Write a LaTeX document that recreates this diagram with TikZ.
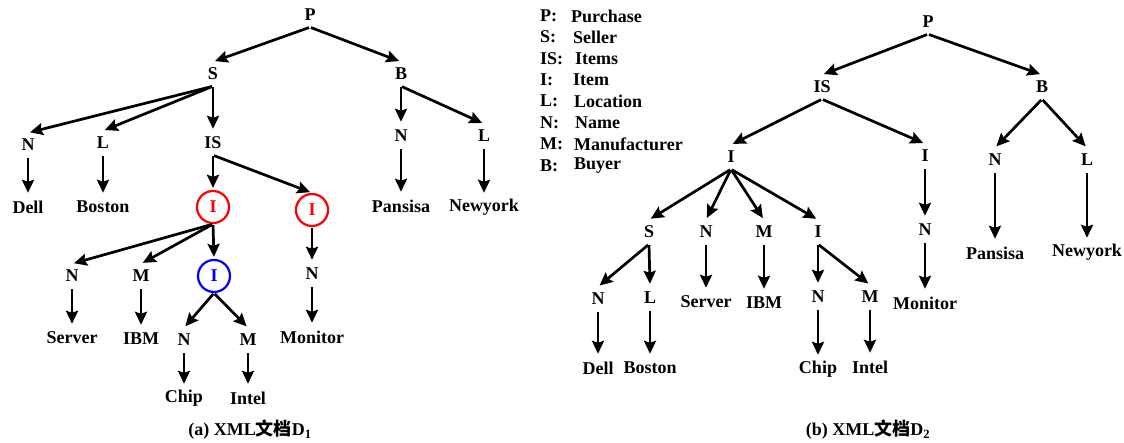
\documentclass[tikz,border=0pt]{standalone}
\usepackage{fontspec}
\setmainfont{Liberation Serif}
\newfontfamily\cjk{Noto Sans CJK SC}
\usetikzlibrary{arrows.meta}
\begin{document}
\begin{tikzpicture}[x=1pt,y=-1pt,
  lbl/.style={font=\fontsize{18}{20}\selectfont\bfseries, inner sep=0pt, minimum height=24pt},
  circ/.style={lbl, circle, draw, line width=2.2pt, minimum size=32pt},
  red circ/.style={circ, draw=red, text=red},
  blue circ/.style={circ, draw=blue, text=blue},
  arr/.style={-{Stealth[length=13pt,width=12pt,inset=2pt]}, line width=2.7pt, shorten <=1pt, shorten >=2pt},
  legtxt/.style={font=\fontsize{18}{20}\selectfont\bfseries, inner sep=0pt, anchor=west},
  captxt/.style={font=\fontsize{18}{20}\selectfont\bfseries, inner sep=0pt}]
\useasboundingbox (0,0) rectangle (1124,443);
\fill[white] (0,0) rectangle (1124,443);

% ---------- (a) ----------
\node[lbl] (aP) at (310,15) {P};
\node[lbl] (aS) at (213,74) {S};
\node[lbl] (aB) at (401,74) {B};
\node[lbl] (aN1) at (28,145) {N};
\node[lbl] (aL1) at (103,143) {L};
\node[lbl] (aIS) at (213,143) {IS};
\node[lbl] (aDell) at (28,207) {Dell};
\node[lbl] (aBoston) at (103,207) {Boston};
\node[red circ] (aI1) at (213,207) {I};
\node[red circ] (aI2) at (312,210) {I};
\node[lbl] (aN2) at (72,276) {N};
\node[lbl] (aM2) at (141,276) {M};
\node[blue circ] (aI3) at (214,276) {I};
\node[lbl] (aServer) at (72,338) {Server};
\node[lbl] (aIBM) at (141,339) {IBM};
\node[lbl] (aN3) at (184,340) {N};
\node[lbl] (aM3) at (248,340) {M};
\node[lbl] (aChip) at (184,398) {Chip};
\node[lbl] (aIntel) at (248,398) {Intel};
\node[lbl] (aN4) at (312,274) {N};
\node[lbl] (aMonitor) at (312,337) {Monitor};
\node[lbl] (aN5) at (401,136) {N};
\node[lbl] (aL5) at (484,136) {L};
\node[lbl] (aPansisa) at (401,206) {Pansisa};
\node[lbl] (aNewyork) at (484,207) {Newyork};
\node[captxt] (capA) at (250,430) {(a) XML{\cjk 文档}D\textsubscript{1}};

\draw[arr] (aP.south) -- (aS.north);
\draw[arr] (aP.south) -- (aB.north);
\draw[arr] (aS.south) -- (aN1.north);
\draw[arr] (aS.south) -- (aL1.north);
\draw[arr] (aS.south) -- (aIS.north);
\draw[arr] (aN1.south) -- (aDell.north);
\draw[arr] (aL1.south) -- (aBoston.north);
\draw[arr] (aIS.south) -- (aI1.north);
\draw[arr] (aIS.south) -- (aI2.north);
\draw[arr] (aI1.south) -- (aN2.north);
\draw[arr] (aI1.south) -- (aM2.north);
\draw[arr] (aI1.south) -- (aI3.north);
\draw[arr] (aN2.south) -- (aServer.north);
\draw[arr] (aM2.south) -- (aIBM.north);
\draw[arr] (aI3.south) -- (aN3.north);
\draw[arr] (aI3.south) -- (aM3.north);
\draw[arr] (aN3.south) -- (aChip.north);
\draw[arr] (aM3.south) -- (aIntel.north);
\draw[arr] (aI2.south) -- (aN4.north);
\draw[arr] (aN4.south) -- (aMonitor.north);
\draw[arr] (aB.south) -- (aN5.north);
\draw[arr] (aB.south) -- (aL5.north);
\draw[arr] (aN5.south) -- (aPansisa.north);
\draw[arr] (aL5.south) -- (aNewyork.north);

% ---------- legend ----------
\foreach \k/\v/\y/\vx [count=\i] in {P:/Purchase/16/571, S:/Seller/37/573, IS:/Items/59/575, I:/Item/80/573, L:/Location/101/574, N:/Name/123/575, M:/Manufacturer/144/574, B:/Buyer/166/574}{
  \node[legtxt] (key\i) at (540,\y) {\k};
  \node[legtxt] (val\i) at (\vx,\y) {\v};
}

% ---------- (b) ----------
\node[lbl] (bP) at (928,22) {P};
\node[lbl] (bIS) at (822,87) {IS};
\node[lbl] (bB) at (1042,87) {B};
\node[lbl] (bI1) at (731,157) {I};
\node[lbl] (bI2) at (925,156) {I};
\node[lbl] (bS) at (649,232) {S};
\node[lbl] (bN1) at (706,232) {N};
\node[lbl] (bM1) at (764,232) {M};
\node[lbl] (bI3) at (818,232) {I};
\node[lbl] (bN2) at (598,299) {N};
\node[lbl] (bL2) at (650,298) {L};
\node[lbl] (bDell) at (598,368) {Dell};
\node[lbl] (bBoston) at (650,368) {Boston};
\node[lbl] (bServer) at (706,302) {Server};
\node[lbl] (bIBM) at (764,303) {IBM};
\node[lbl] (bN3) at (818,297) {N};
\node[lbl] (bM3) at (870,297) {M};
\node[lbl] (bChip) at (818,369) {Chip};
\node[lbl] (bIntel) at (870,367) {Intel};
\node[lbl] (bN4) at (925,230) {N};
\node[lbl] (bMonitor) at (925,303) {Monitor};
\node[lbl] (bN5) at (995,160) {N};
\node[lbl] (bL5) at (1087,160) {L};
\node[lbl] (bPansisa) at (995,253) {Pansisa};
\node[lbl] (bNewyork) at (1087,252) {Newyork};
\node[captxt] (capB) at (868,430) {(b) XML{\cjk 文档}D\textsubscript{2}};

\draw[arr] (bP.south) -- (bIS.north);
\draw[arr] (bP.south) -- (bB.north);
\draw[arr] (bIS.south) -- (bI1.north);
\draw[arr] (bIS.south) -- (bI2.north);
\draw[arr] (bI1.south) -- (bS.north);
\draw[arr] (bI1.south) -- (bN1.north);
\draw[arr] (bI1.south) -- (bM1.north);
\draw[arr] (bI1.south) -- (bI3.north);
\draw[arr] (bS.south) -- (bN2.north);
\draw[arr] (bS.south) -- (bL2.north);
\draw[arr] (bN2.south) -- (bDell.north);
\draw[arr] (bL2.south) -- (bBoston.north);
\draw[arr] (bN1.south) -- (bServer.north);
\draw[arr] (bM1.south) -- (bIBM.north);
\draw[arr] (bI3.south) -- (bN3.north);
\draw[arr] (bI3.south) -- (bM3.north);
\draw[arr] (bN3.south) -- (bChip.north);
\draw[arr] (bM3.south) -- (bIntel.north);
\draw[arr] (bI2.south) -- (bN4.north);
\draw[arr] (bN4.south) -- (bMonitor.north);
\draw[arr] (bB.south) -- (bN5.north);
\draw[arr] (bB.south) -- (bL5.north);
\draw[arr] (bN5.south) -- (bPansisa.north);
\draw[arr] (bL5.south) -- (bNewyork.north);
\end{tikzpicture}
\end{document}
